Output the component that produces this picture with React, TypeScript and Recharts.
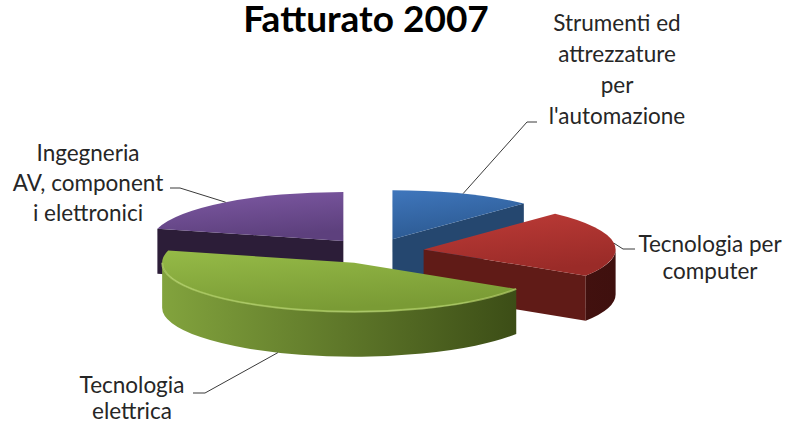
import React from "react";
import { PieChart, Pie } from "recharts";

// Fatturato 2007 — exploded 3D pie, faked with an elliptical projection of
// the angles that Recharts' Pie computes for each slice.
const categories = [
  "Strumenti ed attrezzature per l'automazione",
  "Tecnologia per computer",
  "Tecnologia elettrica",
  "Ingegneria AV, componenti elettronici",
];
const revenueShare = [12, 22, 45, 21];
const labelLines = [
  ["Strumenti ed", "attrezzature", "per", "l'automazione"],
  ["Tecnologia per", "computer"],
  ["Tecnologia", "elettrica"],
  ["Ingegneria", "AV, component", "i elettronici"],
];

const data = categories.map((name, i) => ({ name, value: revenueShare[i] }));

const TOP = [
  ["#3f76bc", "#2c5a92"],
  ["#bd3b37", "#9a2b28"],
  ["#95ba47", "#7a9b35"],
  ["#7e59a4", "#5d407d"],
];
const WALL = [
  ["#25476f", "#1a3454"],
  ["#601b17", "#3f100e"],
  ["#82a33d", "#364613"],
  ["#3a2648", "#2c1d38"],
];
const RIM = ["#5d8fcf", "#d0605c", "#b2d06a", "#9a78bf"];

const TILT = 0.255;
const DEPTH = 45;
const EXPLODE = 50;

// where the wrapped labels sit (text centre x, first line y, line height) and
// the elbow of the leader line
const LABEL_LAYOUT = [
  { x: 617, y: 22, lh: 31, elbow: [527, 122], tail: [537, 122] },
  { x: 710, y: 243, lh: 27, elbow: [623, 249], tail: [635, 249] },
  { x: 132, y: 384, lh: 26, elbow: [205, 393], tail: [193, 393] },
  { x: 88, y: 152, lh: 30, elbow: [180, 188], tail: [170, 188] },
];

const rad = (d: number) => (d * Math.PI) / 180;

function sliceGeom(p: any) {
  const mid = rad(p.midAngle);
  const ax = p.cx + EXPLODE * Math.cos(mid);
  const ay = p.cy - TILT * EXPLODE * Math.sin(mid);
  const R = p.outerRadius;
  const pt = (deg: number, z = 0, r = R) => [
    ax + r * Math.cos(rad(deg)),
    ay - TILT * r * Math.sin(rad(deg)) + z,
  ];
  return { ax, ay, R, pt };
}

const f = (p: number[]) => `${p[0].toFixed(2)},${p[1].toFixed(2)}`;

// parts of [end, start] that lie on the front half of the ellipse
function frontRanges(start: number, end: number) {
  const out: number[][] = [];
  for (let n = -2; n <= 1; n++) {
    const lo = -180 + 360 * n;
    const hi = 360 * n;
    const a = Math.min(start, hi);
    const b = Math.max(end, lo);
    if (a - b > 0.01) out.push([a, b]);
  }
  return out;
}

const renderSides = (which: number[]) => (p: any) => {
  const i = p.index;
  if (!which.includes(i)) return <g />;
  const { ax, ay, R, pt } = sliceGeom(p);
  const apex = [ax, ay];
  const apexLow = [ax, ay + DEPTH];
  const walls: React.ReactNode[] = [];
  if (Math.cos(rad(p.startAngle)) < -1e-6) {
    const q = pt(p.startAngle);
    walls.push(
      <path key="ws" d={`M${f(apex)} L${f(q)} L${f(pt(p.startAngle, DEPTH))} L${f(apexLow)} Z`} fill={WALL[i][1]} />
    );
  }
  if (Math.cos(rad(p.endAngle)) > 1e-6) {
    const q = pt(p.endAngle);
    walls.push(
      <path key="we" d={`M${f(apex)} L${f(q)} L${f(pt(p.endAngle, DEPTH))} L${f(apexLow)} Z`} fill={WALL[i][0]} />
    );
  }
  const gid = `wall-grad-${i}`;
  frontRanges(p.startAngle, p.endAngle).forEach(([a, b], k) => {
    const large = a - b > 180 ? 1 : 0;
    const ry = R * TILT;
    walls.push(
      <path
        key={`wo${k}`}
        d={`M${f(pt(a))} A${R},${ry} 0 ${large} 1 ${f(pt(b))} L${f(pt(b, DEPTH))} A${R},${ry} 0 ${large} 0 ${f(pt(a, DEPTH))} Z`}
        fill={`url(#${gid})`}
      />
    );
  });
  return (
    <g>
      <defs>
        <linearGradient id={gid} gradientUnits="userSpaceOnUse" x1={ax - R} y1={0} x2={ax + R} y2={0}>
          <stop offset="0%" stopColor={WALL[i][0]} />
          <stop offset="100%" stopColor={WALL[i][1]} />
        </linearGradient>
      </defs>
      {walls}
    </g>
  );
};

const renderTop = (p: any) => {
  const i = p.index;
  const { ax, ay, R, pt } = sliceGeom(p);
  const large = p.startAngle - p.endAngle > 180 ? 1 : 0;
  const ry = R * TILT;
  const gid = `top-grad-${i}`;
  const rims =
    i === 2
      ? frontRanges(p.startAngle, p.endAngle).map(([a, b], k) => (
          <path
            key={k}
            d={`M${f(pt(a))} A${R},${ry} 0 ${a - b > 180 ? 1 : 0} 1 ${f(pt(b))}`}
            fill="none"
            stroke={RIM[i]}
            strokeWidth={2}
            strokeOpacity={0.7}
          />
        ))
      : null;
  return (
    <g>
      <defs>
        <linearGradient id={gid} x1="0" y1="0" x2="0.3" y2="1">
          <stop offset="0%" stopColor={TOP[i][0]} />
          <stop offset="100%" stopColor={TOP[i][1]} />
        </linearGradient>
      </defs>
      <path
        d={`M${f([ax, ay])} L${f(pt(p.startAngle))} A${R},${ry} 0 ${large} 1 ${f(pt(p.endAngle))} Z`}
        fill={`url(#${gid})`}
      />
      {rims}
    </g>
  );
};

const renderLabel = (p: any) => {
  const i = p.index;
  const { pt } = sliceGeom(p);
  const lay = LABEL_LAYOUT[i];
  const front = Math.sin(rad(p.midAngle)) < -0.5;
  const anchor = pt(p.midAngle, front ? DEPTH : 0);
  return (
    <g>
      <polyline
        points={`${f(anchor)} ${f(lay.elbow)} ${f(lay.tail)}`}
        fill="none"
        stroke="#3a3a3a"
        strokeWidth={1}
      />
      {labelLines[i].map((line, k) => (
        <text
          key={k}
          x={lay.x}
          y={lay.y + k * lay.lh}
          textAnchor="middle"
          dominantBaseline="central"
          fontFamily="Lato, 'Open Sans', sans-serif"
          fontSize={22.5}
          fill="#262626"
        >
          {line}
        </text>
      ))}
    </g>
  );
};

const pieProps = {
  data,
  dataKey: "value",
  nameKey: "name",
  cx: 374,
  cy: 251,
  outerRadius: 192,
  startAngle: 90,
  endAngle: -270,
  fill: "transparent",
  stroke: "none",
  labelLine: false,
  isAnimationActive: false,
};

export default function App() {
  return (
    <div style={{ position: "absolute", left: 0, top: 0, width: 785, height: 423, background: "#fff" }}>
      <PieChart width={785} height={423} margin={{ top: 0, right: 0, bottom: 0, left: 0 }}>
        <Pie {...(pieProps as any)} label={renderSides([3, 0])} />
        <Pie {...(pieProps as any)} label={renderSides([1, 2])} />
        <Pie {...(pieProps as any)} label={renderTop} />
        <Pie {...(pieProps as any)} label={renderLabel} />
      </PieChart>
      <svg width={785} height={60} style={{ position: "absolute", left: 0, top: 0, pointerEvents: "none" }}>
        <text
          x={366}
          y={32}
          textAnchor="middle"
          fontFamily="Lato, 'Open Sans', sans-serif"
          fontWeight="bold"
          fontSize={37}
          fill="#000"
        >
          Fatturato 2007
        </text>
      </svg>
    </div>
  );
}
